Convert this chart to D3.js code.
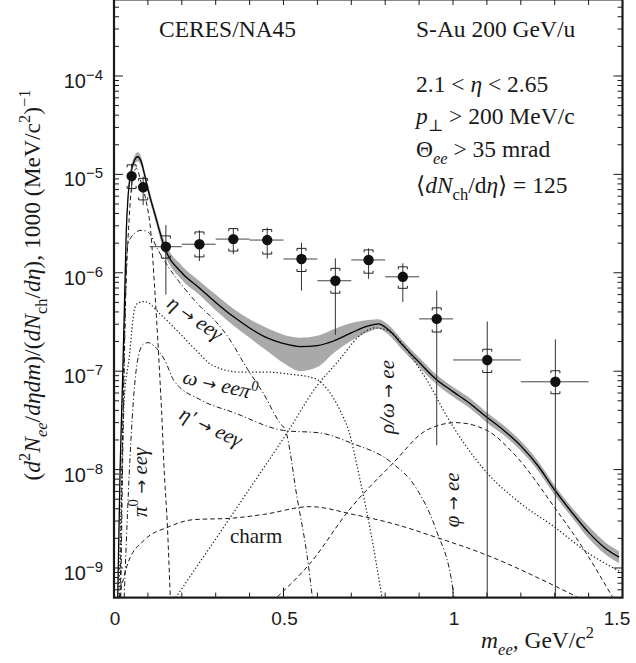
<!DOCTYPE html>
<html>
<head>
<meta charset="utf-8">
<script src="https://cdn.jsdelivr.net/npm/d3@7"></script>
<style>
  html, body { margin: 0; padding: 0; background: #fff; }
  svg { display: block; }
</style>
</head>
<body>
<svg id="chart" width="636" height="663"></svg>
<script>
// ---- Measured e+e- pairs (per mass bin) ----
const pairMass  = [0.052, 0.086, 0.153, 0.252, 0.352, 0.452, 0.553, 0.653, 0.751, 0.852, 0.952, 1.101, 1.302];
const binLow    = [0.045, 0.078, 0.105, 0.20, 0.30, 0.40, 0.50, 0.60, 0.70, 0.80, 0.90, 1.00, 1.20];
const binHigh   = [0.060, 0.095, 0.200, 0.30, 0.40, 0.50, 0.60, 0.70, 0.80, 0.90, 1.00, 1.20, 1.40];
const pairYield = [9.6e-6, 7.4e-6, 1.84e-6, 1.95e-6, 2.2e-6, 2.15e-6, 1.38e-6, 8.3e-7, 1.35e-6, 9.1e-7, 3.4e-7, 1.3e-7, 7.8e-8];
const statHigh  = [1.28e-5, 9.5e-6, 3.06e-6, 2.7e-6, 2.85e-6, 2.88e-6, 2.02e-6, 1.4e-6, 1.77e-6, 1.25e-6, 6.6e-7, 3.2e-7, 2.1e-7];
const statLow   = [6.9e-6, 5.1e-6, 6.3e-7, 1.38e-6, 1.62e-6, 1.46e-6, 6.9e-7, 2.45e-7, 9.1e-7, 5.3e-7, 1.85e-8, 0, 0];
const sysHigh   = [1.25e-5, 9.1e-6, 2.37e-6, 2.6e-6, 2.81e-6, 2.75e-6, 1.77e-6, 1.11e-6, 1.71e-6, 1.15e-6, 4.4e-7, 1.67e-7, 1.01e-7];
const sysLow    = [7.2e-6, 5.5e-6, 1.41e-6, 1.45e-6, 1.66e-6, 1.55e-6, 1.03e-6, 6.2e-7, 9.9e-7, 6.95e-7, 2.5e-7, 9.7e-8, 5.9e-8];

// ---- Total hadronic cocktail with its systematic band ----
const totalMass  = [0.011, 0.018, 0.026, 0.031, 0.036, 0.042, 0.05, 0.06, 0.07, 0.08, 0.09, 0.10, 0.12, 0.15, 0.20, 0.25, 0.30, 0.35, 0.40, 0.45, 0.50, 0.55, 0.60, 0.65, 0.70, 0.75, 0.78, 0.81, 0.85, 0.90, 0.95, 1.00, 1.05, 1.10, 1.15, 1.20, 1.25, 1.30, 1.35, 1.40, 1.45, 1.49];
const totalYield = [5.0e-10, 1.0e-8, 1.0e-7, 5.0e-7, 2.5e-6, 6.3e-6, 1.05e-5, 1.38e-5, 1.51e-5, 1.35e-5, 1.0e-5, 7.1e-6, 4.0e-6, 1.78e-6, 1.0e-6, 7.1e-7, 5.0e-7, 3.63e-7, 2.75e-7, 2.19e-7, 1.91e-7, 1.78e-7, 1.82e-7, 2.04e-7, 2.45e-7, 2.88e-7, 3.02e-7, 2.63e-7, 1.86e-7, 1.23e-7, 8.3e-8, 6.2e-8, 4.7e-8, 3.4e-8, 2.5e-8, 1.74e-8, 1.1e-8, 6.2e-9, 3.7e-9, 2.3e-9, 1.58e-9, 1.29e-9];
const totalHigh  = [5.6e-10, 1.11e-8, 1.11e-7, 5.6e-7, 2.8e-6, 7.0e-6, 1.17e-5, 1.53e-5, 1.68e-5, 1.5e-5, 1.11e-5, 7.9e-6, 4.45e-6, 2.05e-6, 1.18e-6, 8.35e-7, 6.0e-7, 4.36e-7, 3.38e-7, 2.76e-7, 2.35e-7, 2.19e-7, 2.29e-7, 2.69e-7, 3.09e-7, 3.31e-7, 3.38e-7, 2.95e-7, 2.08e-7, 1.38e-7, 9.3e-8, 6.9e-8, 5.3e-8, 3.8e-8, 2.8e-8, 1.95e-8, 1.23e-8, 6.9e-9, 4.15e-9, 2.65e-9, 1.82e-9, 1.48e-9];
const totalLow   = [4.5e-10, 9.0e-9, 9.0e-8, 4.5e-7, 2.25e-6, 5.7e-6, 9.5e-6, 1.24e-5, 1.36e-5, 1.22e-5, 9.0e-6, 6.4e-6, 3.6e-6, 1.55e-6, 8.5e-7, 6.05e-7, 4.17e-7, 2.95e-7, 2.18e-7, 1.62e-7, 1.21e-7, 1.0e-7, 1.1e-7, 1.55e-7, 2.04e-7, 2.5e-7, 2.7e-7, 2.35e-7, 1.66e-7, 1.1e-7, 7.4e-8, 5.5e-8, 4.2e-8, 3.0e-8, 2.23e-8, 1.55e-8, 9.8e-9, 5.5e-9, 3.3e-9, 2.0e-9, 1.37e-9, 1.12e-9];

// ---- Individual cocktail sources ----
const pi0Mass   = [0.018, 0.03, 0.045, 0.058, 0.066, 0.08, 0.094, 0.109, 0.119, 0.132, 0.143, 0.147, 0.158, 0.166];
const pi0Yield  = [5e-10, 1.6e-7, 3.7e-6, 1.02e-5, 1.15e-5, 8.3e-6, 5.5e-6, 2.5e-6, 7.9e-7, 1.38e-7, 2.5e-8, 1.17e-8, 2.45e-9, 5e-10];
const etaMass   = [0.02, 0.03, 0.04, 0.06, 0.08, 0.10, 0.13, 0.16, 0.21, 0.25, 0.30, 0.336, 0.39, 0.44, 0.49, 0.506, 0.54, 0.57, 0.585];
const etaYield  = [5e-10, 1.0e-7, 1.9e-6, 2.5e-6, 2.7e-6, 2.6e-6, 1.7e-6, 1.15e-6, 6.8e-7, 4.7e-7, 3.2e-7, 2.24e-7, 1.1e-7, 6.0e-8, 2.95e-8, 2.5e-8, 5.2e-9, 1.3e-9, 5.1e-10];
const etapMass  = [0.03, 0.05, 0.065, 0.085, 0.10, 0.12, 0.15, 0.176, 0.256, 0.353, 0.50, 0.61, 0.70, 0.82, 0.89, 0.95, 1.0, 1.005];
const etapYield = [5e-10, 2.0e-8, 1.0e-7, 1.86e-7, 1.95e-7, 1.78e-7, 1.29e-7, 8.1e-8, 5.1e-8, 3.8e-8, 2.5e-8, 2.35e-8, 1.86e-8, 1.17e-8, 6.6e-9, 2.45e-9, 6.0e-10, 4.5e-10];
const omDalMass  = [0.015, 0.03, 0.045, 0.06, 0.07, 0.09, 0.14, 0.19, 0.24, 0.29, 0.37, 0.45, 0.52, 0.59, 0.63, 0.67, 0.692, 0.726, 0.756, 0.79];
const omDalYield = [5e-10, 5e-8, 1.38e-7, 4.2e-7, 4.9e-7, 5.1e-7, 3.7e-7, 2.5e-7, 1.66e-7, 1.15e-7, 9.8e-8, 9.8e-8, 9.3e-8, 8.5e-8, 6.5e-8, 3.8e-8, 2.5e-8, 7.8e-9, 2.45e-9, 5.1e-10];
const rhoMass   = [0.182, 0.374, 0.515, 0.60, 0.656, 0.735, 0.77, 0.815, 0.853, 0.891, 0.932, 0.97, 1.1, 1.197, 1.3, 1.4, 1.49];
const rhoYield  = [5e-10, 4.7e-9, 2.5e-8, 7.2e-8, 1.2e-7, 2.45e-7, 2.75e-7, 2.5e-7, 1.86e-7, 1.2e-7, 7.2e-8, 4.1e-8, 9.3e-9, 4.6e-9, 2.6e-9, 1.41e-9, 9.3e-10];
const phiMass   = [0.482, 0.579, 0.694, 0.824, 0.921, 1.009, 1.1, 1.185, 1.3, 1.382, 1.47];
const phiYield  = [5.1e-10, 1.12e-9, 3.9e-9, 1.17e-8, 2.5e-8, 3.0e-8, 2.5e-8, 1.38e-8, 4.1e-9, 1.62e-9, 5.1e-10];
const charmMass  = [0.015, 0.041, 0.088, 0.159, 0.235, 0.344, 0.441, 0.579, 0.706, 0.835, 0.941, 1.1, 1.303, 1.365];
const charmYield = [5e-10, 1.12e-9, 1.9e-9, 2.6e-9, 3.1e-9, 3.2e-9, 3.5e-9, 4.2e-9, 3.5e-9, 2.75e-9, 2.1e-9, 1.35e-9, 6.5e-10, 5.1e-10];

// ---- Axis ticks ----
const xMajorTicks = [0, 0.5, 1, 1.5];
const yDecadeExp  = [-9, -8, -7, -6, -5, -4];

// ---- Scales ----
const svg = d3.select('#chart');
const x = d3.scaleLinear().domain([0, 1.5]).range([114, 622.5]);
const y = d3.scaleLog().domain([5e-10, 6e-4]).range([597.6, -0.6]);
const [x0, x1] = x.range();
const yBot = y.range()[0], yTop = y.range()[1];
const yMin = y.domain()[0];

const SERIF = "'Liberation Serif', 'Times New Roman', 'DejaVu Serif', serif";
const SANS  = "'Liberation Sans', Arial, 'DejaVu Sans', sans-serif";
const ARROW = "'DejaVu Sans', sans-serif";
const INK = '#1a1a1a';

svg.append('defs').append('clipPath').attr('id', 'plotClip')
  .append('rect').attr('x', x0).attr('y', 0).attr('width', x1 - x0).attr('height', yBot);

const plot = svg.append('g').attr('clip-path', 'url(#plotClip)');

// systematic band of the cocktail sum
const bandRows = totalMass.map((m, i) => ({ m, lo: totalLow[i], hi: totalHigh[i] }));
plot.append('path')
  .datum(bandRows)
  .attr('fill', '#a9a9a9')
  .attr('d', d3.area().x(d => x(d.m)).y0(d => y(d.lo)).y1(d => y(d.hi)).curve(d3.curveMonotoneX));

const line = d3.line().x(d => x(d[0])).y(d => y(d[1])).curve(d3.curveMonotoneX);
const zip = (a, b) => a.map((v, i) => [v, b[i]]);

const components = [
  { m: pi0Mass,   v: pi0Yield,   dash: '4.5,3',         w: 1 },
  { m: etaMass,   v: etaYield,   dash: '5,2.5,1.2,2.5', w: 1 },
  { m: etapMass,  v: etapYield,  dash: '5,2.5,1.2,2.5', w: 1 },
  { m: omDalMass, v: omDalYield, dash: '1.3,2.2',       w: 1.2 },
  { m: rhoMass,   v: rhoYield,   dash: '1.3,2.2',       w: 1.2 },
  { m: phiMass,   v: phiYield,   dash: '4.5,3',         w: 1 },
  { m: charmMass, v: charmYield, dash: '4.5,3',         w: 1 }
];
components.forEach(c => {
  plot.append('path')
    .datum(zip(c.m, c.v))
    .attr('fill', 'none')
    .attr('stroke', INK)
    .attr('stroke-width', c.w)
    .attr('stroke-dasharray', c.dash)
    .attr('d', line);
});

// cocktail sum
plot.append('path')
  .datum(zip(totalMass, totalYield))
  .attr('fill', 'none')
  .attr('stroke', '#000')
  .attr('stroke-width', 1.3)
  .attr('d', line);

// ---- Data points with statistical and systematic errors ----
const pts = plot.append('g');
pairMass.forEach((m, i) => {
  const cx = x(m), cy = y(pairYield[i]);
  // horizontal bin width
  pts.append('line')
    .attr('x1', x(binLow[i])).attr('x2', x(binHigh[i]))
    .attr('y1', cy).attr('y2', cy)
    .attr('stroke', '#444').attr('stroke-width', 1);
  // statistical error
  pts.append('line')
    .attr('x1', cx).attr('x2', cx)
    .attr('y1', y(statHigh[i]))
    .attr('y2', y(Math.max(statLow[i], yMin)) + 2)
    .attr('stroke', '#333').attr('stroke-width', 1);
  // systematic brackets
  const w = 4.5, t = 2.5;
  const yh = y(sysHigh[i]), yl = y(sysLow[i]);
  pts.append('path')
    .attr('d', `M${cx - w},${yh + t}V${yh}H${cx + w}V${yh + t}`)
    .attr('fill', 'none').attr('stroke', '#222').attr('stroke-width', 1);
  pts.append('path')
    .attr('d', `M${cx - w},${yl - t}V${yl}H${cx + w}V${yl - t}`)
    .attr('fill', 'none').attr('stroke', '#222').attr('stroke-width', 1);
  pts.append('circle')
    .attr('cx', cx).attr('cy', cy).attr('r', 5.2)
    .attr('fill', '#111');
});

// ---- Frame and ticks ----
const axes = svg.append('g').attr('stroke', INK);
const allY = y.ticks();
const isDecade = v => Math.abs(Math.log10(v) - Math.round(Math.log10(v))) < 1e-6;
allY.forEach(v => {
  const len = isDecade(v) ? 9 : 5;
  const yy = y(v);
  axes.append('line').attr('x1', x0).attr('x2', x0 + len).attr('y1', yy).attr('y2', yy).attr('stroke-width', 1);
  axes.append('line').attr('x1', x1).attr('x2', x1 - len).attr('y1', yy).attr('y2', yy).attr('stroke-width', 1);
});
const xMinor = d3.range(0, 16).map(k => k / 10);
xMinor.forEach(v => {
  const major = xMajorTicks.some(t => Math.abs(t - v) < 1e-9);
  const xx = x(v);
  axes.append('line').attr('x1', xx).attr('x2', xx).attr('y1', yBot).attr('y2', yBot - (major ? 10 : 5)).attr('stroke-width', 1);
  axes.append('line').attr('x1', xx).attr('x2', xx).attr('y1', Math.max(yTop, 0)).attr('y2', Math.max(yTop, 0) + 5).attr('stroke-width', 1);
});
svg.append('rect')
  .attr('x', x0).attr('y', yTop).attr('width', x1 - x0).attr('height', yBot - yTop)
  .attr('fill', 'none').attr('stroke', INK).attr('stroke-width', 2.2);

// ---- Text helpers ----
function rich(textSel, parts, size) {
  let shift = 0;
  parts.forEach(([str, style]) => {
    let target = 0, fs = size;
    if (style.includes('sub')) { target = size * 0.3; fs = size * 0.7; }
    if (style.includes('sup')) { target = -size * 0.42; fs = size * 0.7; }
    if (style === 'arrow') fs = size * 0.8;
    const sp = textSel.append('tspan').text(str)
      .attr('dy', target - shift)
      .attr('font-size', fs);
    if (style.startsWith('i')) sp.attr('font-style', 'italic');
    if (style === 'arrow') sp.attr('font-family', ARROW);
    shift = target;
  });
  return textSel;
}

// y tick labels 10^n
yDecadeExp.forEach(e => {
  const t = svg.append('text')
    .attr('x', 103).attr('y', y(Math.pow(10, e)) + 12)
    .attr('text-anchor', 'end')
    .attr('font-family', SANS).attr('fill', INK);
  t.append('tspan').text('10').attr('font-size', 20);
  t.append('tspan').text('\u2212' + Math.abs(e)).attr('font-size', 15).attr('dy', -8);
});
// x tick labels
xMajorTicks.forEach(v => {
  svg.append('text')
    .attr('x', Math.min(x(v) + 1, 617)).attr('y', 625)
    .attr('text-anchor', 'middle')
    .attr('font-family', SANS).attr('font-size', 19).attr('fill', INK)
    .text(d3.format('~g')(v));
});

// axis titles
rich(svg.append('text')
  .attr('x', 594).attr('y', 648).attr('text-anchor', 'end')
  .attr('font-family', SERIF).attr('fill', INK),
  [['m', 'i'], ['ee', 'isub'], [', GeV/c', 'r'], ['2', 'sup']], 23.5);

rich(svg.append('text')
  .attr('transform', 'translate(40,285) rotate(-90)')
  .attr('text-anchor', 'middle')
  .attr('font-family', SERIF).attr('fill', INK),
  [['(', 'r'], ['d', 'i'], ['2', 'sup'], ['N', 'i'], ['ee', 'isub'], ['/', 'r'], ['d\u03b7dm', 'i'],
   [')/(', 'r'], ['dN', 'i'], ['ch', 'sub'], ['/', 'r'], ['d\u03b7', 'i'], ['), 1000 (MeV/c', 'r'],
   ['2', 'sup'], [')', 'r'], ['\u22121', 'sup']], 23.5);

// experiment and cut annotations
const info = [
  { x: 159, y: 37,  parts: [['CERES/NA45', 'r']] },
  { x: 416, y: 37,  parts: [['S-Au 200 GeV/u', 'r']] },
  { x: 416, y: 92,  parts: [['2.1 < ', 'r'], ['\u03b7', 'i'], [' < 2.65', 'r']] },
  { x: 416, y: 124, parts: [['p', 'i'], ['\u22a5', 'sub'], [' > 200 MeV/c', 'r']] },
  { x: 416, y: 157, parts: [['\u0398', 'r'], ['ee', 'isub'], [' > 35 mrad', 'r']] },
  { x: 416, y: 193, parts: [['\u27e8', 'r'], ['dN', 'i'], ['ch', 'sub'], ['/d', 'r'], ['\u03b7', 'i'], ['\u27e9 = 125', 'r']] }
];
info.forEach(d => {
  rich(svg.append('text').attr('x', d.x).attr('y', d.y)
    .attr('font-family', SERIF).attr('fill', INK), d.parts, 23.5);
});

// source labels, anchored in (mass, yield) coordinates
const sourceLabels = [
  { m: 0.153, v: 4.6e-7, rot: 35,  parts: [['\u03b7 ', 'i'], ['\u2192', 'arrow'], [' ee\u03b3', 'i']] },
  { m: 0.200, v: 7.6e-8, rot: 13,  parts: [['\u03c9 ', 'i'], ['\u2192', 'arrow'], [' ee\u03c0', 'i'], ['0', 'sup']] },
  { m: 0.189, v: 3.3e-8, rot: 26,  parts: [['\u03b7\u2032 ', 'i'], ['\u2192', 'arrow'], [' ee\u03b3', 'i']] },
  { m: 0.097, v: 3.3e-9, rot: -90, parts: [['\u03c0', 'i'], ['0', 'sup'], [' ', 'r'], ['\u2192', 'arrow'], [' ee\u03b3', 'i']] },
  { m: 0.826, v: 2.3e-8, rot: -90, parts: [['\u03c1/\u03c9 ', 'i'], ['\u2192', 'arrow'], [' ee', 'i']] },
  { m: 1.018, v: 2.6e-9, rot: -90, parts: [['\u03c6 ', 'i'], ['\u2192', 'arrow'], [' ee', 'i']] },
  { m: 0.342, v: 1.8e-9, rot: 0,   parts: [['charm', 'r']] }
];
sourceLabels.forEach(d => {
  rich(svg.append('text')
    .attr('transform', `translate(${x(d.m)},${y(d.v)}) rotate(${d.rot})`)
    .attr('font-family', SERIF).attr('fill', INK), d.parts, 21);
});
</script>
</body>
</html>
